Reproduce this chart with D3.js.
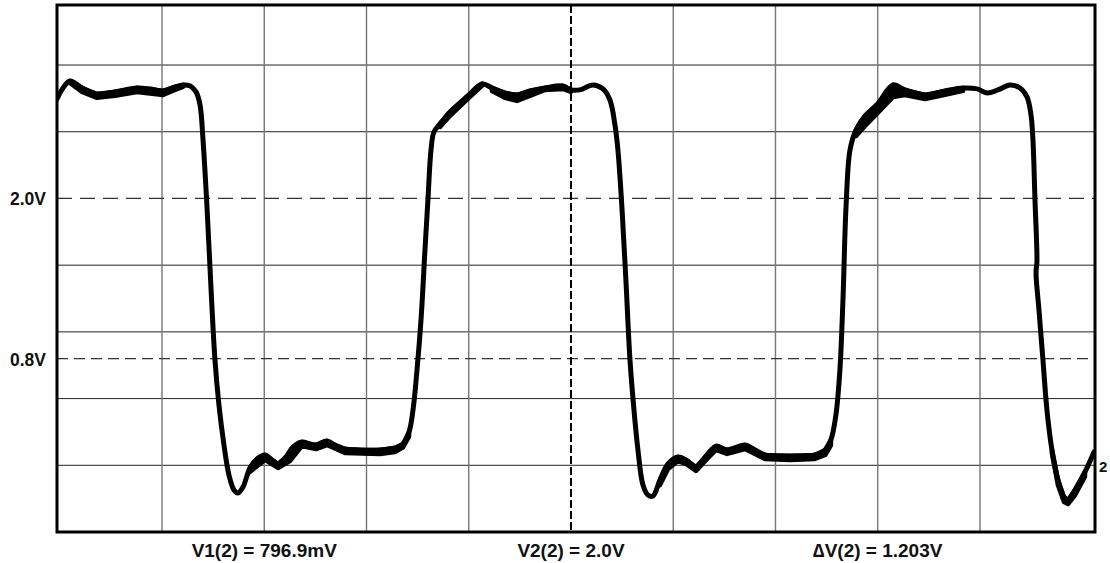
<!DOCTYPE html>
<html><head><meta charset="utf-8">
<script src="https://cdn.jsdelivr.net/npm/d3@7"></script>
<style>
html,body{margin:0;padding:0;background:#fff;}
svg{display:block;}
text{font-family:"Liberation Sans",Arial,Helvetica,sans-serif;font-weight:bold;fill:#111;}
</style></head>
<body>
<script>
// time in divisions, voltage in volts
const xGrid = [1,2,3,4,5,6,7,8,9];
const yGrid = [0,0.5,1.0,1.5,2.0,2.5,3.0];
const levelLines = [2.0, 0.8];
const levelLabels = ["2.0V", "0.8V"];
const cursorT = 5.0;
const readouts = ["V1(2) = 796.9mV", "V2(2) = 2.0V", "\u2206V(2) = 1.203V"];
const readoutT = [2.0, 5.0, 8.0];
const groundMarker = "2";
const groundV = 0;

const trace = [
[-0.027,2.746],[0.032,2.828],[0.10,2.881],[0.218,2.828],[0.364,2.783],[0.54,2.799],[0.755,2.828],[0.883,2.820],
[1.01,2.806],[1.127,2.836],[1.205,2.851],[1.276,2.843],[1.333,2.799],[1.372,2.701],[1.401,2.439],[1.44,1.936],
[1.48,1.314],[1.518,0.789],[1.557,0.452],[1.606,0.152],[1.655,-0.073],[1.704,-0.185],[1.743,-0.208],[1.792,-0.163],
[1.86,-0.020],[1.929,0.047],[2.007,0.077],[2.076,0.040],[2.134,0.010],[2.213,0.062],[2.281,0.137],[2.369,0.175],
[2.447,0.160],[2.506,0.152],[2.613,0.182],[2.691,0.152],[2.79,0.122],[2.936,0.115],[3.132,0.115],[3.279,0.130],
[3.357,0.160],[3.416,0.250],[3.455,0.415],[3.494,0.714],[3.533,1.089],[3.572,1.614],[3.602,2.004],[3.631,2.364],
[3.66,2.499],[3.719,2.559],[3.817,2.649],[3.914,2.716],[4.012,2.784],[4.129,2.859],[4.227,2.829],[4.354,2.791],
[4.471,2.776],[4.598,2.806],[4.745,2.828],[4.921,2.843],[5.0,2.814],[5.088,2.814],[5.215,2.851],[5.313,2.821],
[5.381,2.738],[5.43,2.551],[5.459,2.364],[5.498,1.936],[5.537,1.389],[5.577,0.789],[5.616,0.415],[5.655,0.115],
[5.704,-0.148],[5.753,-0.223],[5.802,-0.230],[5.87,-0.110],[5.949,0.010],[6.046,0.062],[6.125,0.040],[6.223,-0.013],
[6.321,0.069],[6.419,0.144],[6.526,0.115],[6.702,0.152],[6.8,0.115],[6.897,0.077],[7.142,0.070],[7.385,0.077],
[7.486,0.115],[7.542,0.190],[7.591,0.377],[7.63,0.714],[7.66,1.239],[7.69,1.936],[7.729,2.364],[7.788,2.514],
[7.876,2.619],[8.0,2.709],[8.15,2.851],[8.266,2.813],[8.462,2.776],[8.658,2.806],[8.834,2.828],[8.971,2.821],
[9.068,2.791],[9.176,2.813],[9.293,2.851],[9.391,2.828],[9.46,2.761],[9.499,2.626],[9.518,2.439],[9.538,1.989],
[9.557,1.524],[9.548,1.449],[9.577,1.164],[9.616,0.789],[9.655,0.415],[9.704,0.115],[9.763,-0.110],[9.822,-0.238],
[9.861,-0.260],[9.929,-0.185],[10.027,-0.050],[10.115,0.100]
];

// second sweep where it separates from the first (persistence band)
const band1 = [[0.10,2.866],[0.218,2.798],[0.364,2.754],[0.54,2.769],[0.755,2.798],[1.01,2.776],[1.127,2.813],[1.205,2.836]];
const band2 = [[1.86,-0.050],[2.007,0.040],[2.134,-0.020],[2.251,0.032],[2.369,0.145],[2.506,0.122],[2.613,0.152],[2.79,0.092],[3.132,0.085],[3.279,0.100],[3.357,0.135],[3.416,0.215]];
const band3 = [[3.719,2.536],[3.817,2.620],[3.914,2.690],[4.012,2.761],[4.129,2.844]];
const band4 = [[4.227,2.805],[4.354,2.754],[4.471,2.731],[4.598,2.769],[4.745,2.813],[4.921,2.821],[5.0,2.799]];
const band5 = [[5.87,-0.148],[5.949,-0.027],[6.046,0.032],[6.125,0.010],[6.223,-0.043],[6.321,0.040],[6.419,0.115],[6.526,0.085],[6.702,0.122],[6.8,0.085],[6.897,0.047],[7.142,0.040],[7.385,0.047],[7.486,0.077],[7.542,0.150]];
const band6 = [[7.788,2.469],[7.876,2.544],[8.0,2.641],[8.15,2.760],[8.266,2.776],[8.462,2.746],[8.658,2.776],[8.834,2.806]];
const band7 = [[9.704,0.090],[9.763,-0.150],[9.822,-0.275],[9.861,-0.290],[9.929,-0.225],[10.027,-0.085]];
const bands = [band1, band2, band3, band4, band5, band6, band7];

const W = 1110, H = 563;
const L = 57, R = 1095, T = 5, B = 532;
const x = d3.scaleLinear().domain([-0.027, 10.125]).range([L, R]);
const y = d3.scaleLinear().domain([-0.5, 3.45]).range([B, T]);

const svg = d3.select("body").append("svg").attr("width", W).attr("height", H);

// grid
svg.append("g").selectAll("line").data(yGrid.filter(v => v !== 2.0)).join("line")
  .attr("x1", L).attr("x2", R).attr("y1", d => y(d)).attr("y2", d => y(d))
  .attr("stroke", "#222").attr("stroke-width", 1);
svg.append("g").selectAll("line").data(xGrid.filter(t => t !== cursorT)).join("line")
  .attr("y1", T).attr("y2", B).attr("x1", d => x(d)).attr("x2", d => x(d))
  .attr("stroke", "#777").attr("stroke-width", 1.4);

// level lines
svg.append("g").selectAll("line").data(levelLines).join("line")
  .attr("x1", L).attr("x2", R).attr("y1", d => y(d)).attr("y2", d => y(d))
  .attr("stroke", "#333").attr("stroke-width", 1.3)
  .attr("stroke-dasharray", (d, i) => i === 0 ? "15,8" : "11,6");
svg.append("g").selectAll("text").data(levelLabels).join("text")
  .attr("x", 46).attr("y", (d, i) => y(levelLines[i]) + 7)
  .attr("text-anchor", "end").attr("font-size", 17.5).text(d => d);

// cursor
svg.append("line").attr("x1", x(cursorT)).attr("x2", x(cursorT)).attr("y1", T).attr("y2", B)
  .attr("stroke", "#000").attr("stroke-width", 2).attr("stroke-dasharray", "8,3");

// trace
const line = d3.line().x(d => x(d[0])).y(d => y(d[1])).curve(d3.curveCatmullRom.alpha(0.5));
const poly = d3.line().x(d => x(d[0])).y(d => y(d[1])).curve(d3.curveLinearClosed);
svg.append("clipPath").attr("id", "c").append("rect")
  .attr("x", L).attr("y", T).attr("width", R - L).attr("height", B - T);
const tg = svg.append("g").attr("clip-path", "url(#c)");
tg.selectAll("path.band").data(bands).join("path").attr("class", "band")
  .attr("d", b => {
    const t0 = b[0][0], t1 = b[b.length - 1][0];
    const seg = trace.filter(p => p[0] >= t0 - 1e-9 && p[0] <= t1 + 1e-9);
    return poly(seg.concat(b.slice().reverse()));
  })
  .attr("fill", "#000").attr("stroke", "#000").attr("stroke-width", 4.5)
  .attr("stroke-linejoin", "round");
tg.append("path").datum(trace).attr("d", line).attr("fill", "none").attr("stroke", "#000")
  .attr("stroke-width", 5).attr("stroke-linejoin", "round").attr("stroke-linecap", "round");

// frame
svg.append("rect").attr("x", L).attr("y", T).attr("width", R - L).attr("height", B - T)
  .attr("fill", "none").attr("stroke", "#000").attr("stroke-width", 3);

// readouts
svg.append("g").selectAll("text").data(readouts).join("text")
  .attr("x", (d, i) => x(readoutT[i])).attr("y", 557)
  .attr("text-anchor", "middle").attr("font-size", 19).text(d => d);

// ground marker
svg.append("text").attr("x", 1099).attr("y", y(groundV) + 7).attr("font-size", 15).text(groundMarker);
</script>
</body></html>
